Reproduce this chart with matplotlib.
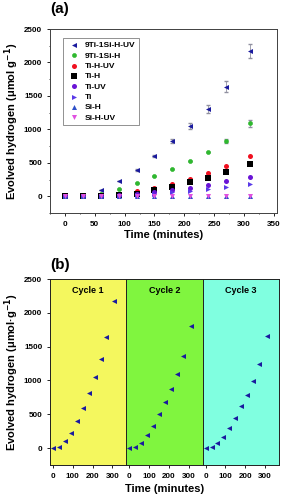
import numpy as np
import matplotlib.pyplot as plt

plt.rcParams['font.family'] = ['Liberation Sans', 'DejaVu Sans']
plt.rcParams['font.weight'] = 'bold'

t = [0, 30, 60, 90, 120, 150, 180, 210, 240, 270, 310]

h_9ti_uv = [0, 20, 100, 225, 400, 600, 820, 1050, 1310, 1640, 2170]
h_9ti_uv_err = [0, 0, 0, 0, 15, 20, 30, 50, 60, 80, 110]
h_9ti = [0, 5, 40, 110, 200, 300, 410, 530, 655, 820, 1090]
h_9ti_err = [0, 0, 0, 0, 0, 0, 0, 0, 0, 30, 50]
h_tih_uv = [0, 0, 10, 40, 75, 125, 190, 265, 355, 450, 595]
h_tih = [0, 0, 5, 20, 40, 90, 140, 210, 280, 360, 475]
h_ti_uv = [0, 0, 5, 15, 30, 60, 90, 130, 175, 225, 295]
h_ti = [0, 0, 0, 10, 20, 40, 60, 80, 110, 140, 180]
h_sih = [0] * 11
h_sih_uv = [0] * 11

cycle_names = ["Cycle 1", "Cycle 2", "Cycle 3"]
cycle_vals = [
    [0, 20, 100, 225, 400, 600, 820, 1050, 1310, 1640, 2170],
    [0, 15, 80, 190, 330, 500, 680, 870, 1090, 1360, 1810],
    [0, 15, 75, 165, 300, 450, 620, 790, 990, 1240, 1650],
]
cycle_colors = ["#f4f75e", "#80f53f", "#80ffe0"]

fig = plt.figure(figsize=(2.87, 5.0), dpi=100)

# ---- panel (a)
ax = fig.add_axes([0.174, 0.574, 0.791, 0.368])
series = [
    ("9Ti-1Si-H-UV", h_9ti_uv, '<', '#1a1a9e'),
    ("9Ti-1Si-H", h_9ti, '8', '#2fb82f'),
    ("Ti-H-UV", h_tih_uv, 'o', '#f01020'),
    ("Ti-H", h_tih, 's', '#000000'),
    ("Ti-UV", h_ti_uv, 'o', '#6a14d6'),
    ("Ti", h_ti, '>', '#5a3ae8'),
    ("Si-H", h_sih, '^', '#2e50c8'),
    ("Si-H-UV", h_sih_uv, 'v', '#e050e0'),
]
ax.errorbar(t, h_9ti_uv, yerr=h_9ti_uv_err, fmt='none', ecolor='#9090a0', elinewidth=0.6, capsize=1.5, zorder=1)
ax.errorbar(t, h_9ti, yerr=h_9ti_err, fmt='none', ecolor='#9090a0', elinewidth=0.6, capsize=1.5, zorder=1)
for name, vals, m, c in series:
    ax.scatter(t, vals, marker=m, s=13, color=c, label=name, zorder=3, linewidths=0)
ax.set_xlim(-25, 355)
ax.set_ylim(-250, 2500)
ax.set_xticks(np.arange(0, 351, 50))
ax.set_yticks(np.arange(0, 2501, 500))
ax.set_xticks(np.arange(-25, 351, 25), minor=True)
ax.set_yticks(np.arange(-250, 2501, 250), minor=True)
ax.tick_params(labelsize=5.8, length=2, width=0.6)
ax.tick_params(which='minor', length=1, width=0.5)
ax.set_xlabel("Time (minutes)", fontsize=8, fontweight='bold', labelpad=2)
ax.set_ylabel("Evolved hydrogen (\u03bcmol g$^{\\mathbf{-1}}$)", fontsize=8, fontweight='bold', labelpad=2)
for s in ax.spines.values():
    s.set_linewidth(0.7)
    s.set_color('#404040')
leg = ax.legend(loc='upper left', fontsize=6, frameon=True, fancybox=False, edgecolor='#404040',
                handletextpad=0.5, borderpad=0.45, labelspacing=0.3, bbox_to_anchor=(0.04, 0.975),
                markerscale=1.0, handlelength=1.6)
leg.get_frame().set_linewidth(0.5)
fig.text(0.175, 0.995, "(a)", fontsize=11, fontweight='bold', va='top', ha='left')

# ---- panel (b)
left, right = 0.174, 0.972
w = (right - left) / 3
for i in range(3):
    bx = fig.add_axes([left + i * w, 0.07, w, 0.372])
    bx.set_facecolor(cycle_colors[i])
    bx.scatter(t, cycle_vals[i], marker='<', s=13, color='#1a1a9e', linewidths=0, zorder=3)
    bx.set_xlim(-15, 370)
    bx.set_ylim(-250, 2500)
    bx.set_xticks([0, 100, 200, 300])
    bx.tick_params(labelsize=5.8, length=2, width=0.6)
    bx.text(0.5, 0.965, cycle_names[i], transform=bx.transAxes, ha='center', va='top', fontsize=6.5, fontweight='bold')
    for s in bx.spines.values():
        s.set_linewidth(0.7)
        s.set_color('#202020')
    if i == 0:
        bx.set_yticks(np.arange(0, 2501, 500))
        bx.set_ylabel("Evolved hydrogen (\u03bcmol\u00b7g$^{\\mathbf{-1}}$)", fontsize=8, fontweight='bold', labelpad=2)
    else:
        bx.set_yticks([])
    if i == 1:
        bx.set_xlabel("Time (minutes)", fontsize=8, fontweight='bold', labelpad=3)
fig.text(0.175, 0.485, "(b)", fontsize=11, fontweight='bold', va='top', ha='left')

fig.savefig("out.png", dpi=100)
